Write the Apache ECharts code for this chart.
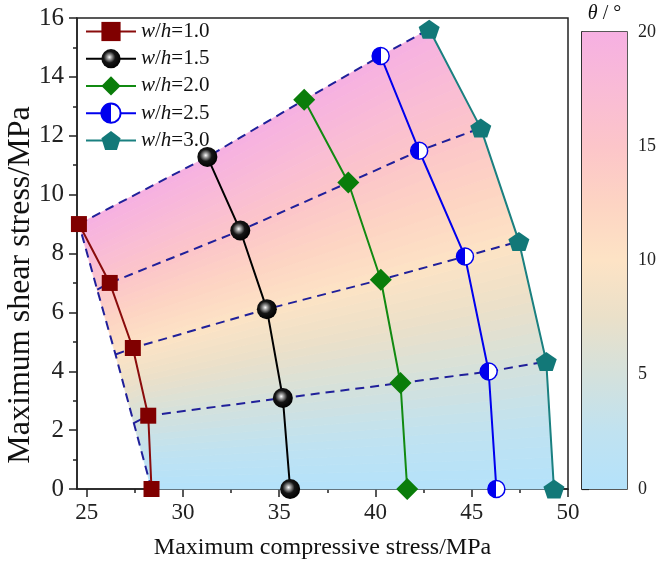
<!DOCTYPE html>
<html>
<head>
<meta charset="utf-8">
<script src="https://cdn.jsdelivr.net/npm/echarts@6/dist/echarts.min.js"></script>
<style>
html, body { margin: 0; background: #fff; }
#chart { width: 669px; height: 563px; }
</style>
</head>
<body>
<div id="chart"></div>
<script>
// theta levels of the dashed lines, bottom to top
var thetaLevels = [0, 5, 10, 15, 20];

// left dashed edge of the shaded map
var edgeX = [28.37, 27.45, 26.5, 25.55, 24.6];
var edgeY = [0, 2.24, 4.57, 6.77, 9.0];

// w/h series, points listed from theta=0 up to theta=20
var wh10X = [28.37, 28.2, 27.4, 26.2, 24.6];
var wh10Y = [0, 2.49, 4.79, 7.0, 9.0];
var wh15X = [35.57, 35.19, 34.36, 32.98, 31.27];
var wh15Y = [0, 3.09, 6.11, 8.78, 11.28];
var wh20X = [41.65, 41.3, 40.28, 38.59, 36.3];
var wh20Y = [0, 3.6, 7.11, 10.41, 13.22];
var wh25X = [46.28, 45.88, 44.65, 42.27, 40.27];
var wh25Y = [0, 3.99, 7.9, 11.49, 14.71];
var wh30X = [49.27, 48.87, 47.45, 45.47, 42.79];
var wh30Y = [0, 4.33, 8.41, 12.26, 15.62];

var ratioNames = ['w/h=1.0', 'w/h=1.5', 'w/h=2.0', 'w/h=2.5', 'w/h=3.0'];

var xTicks = [25, 30, 35, 40, 45, 50];
var xMinorTicks = [27.5, 32.5, 37.5, 42.5, 47.5];

// colour scale of theta
var cmapLevels = [0, 2.5, 5, 7.5, 10, 12.5, 15, 17.5, 20];
var cmapColors = ['#b4e2fb', '#c0e2f0', '#d4e1dc', '#eae0c9', '#fde3c5', '#fdd4c3', '#fcc5c9', '#f9bbd6', '#f6b0e2'];

var FONT = "'Liberation Serif', 'Times New Roman', serif";

function pairs(xs, ys) {
    return xs.map(function (x, i) { return [x, ys[i]]; });
}

function hexRgb(h) {
    return [parseInt(h.substr(1, 2), 16), parseInt(h.substr(3, 2), 16), parseInt(h.substr(5, 2), 16)];
}

function thetaColor(t) {
    for (var i = 0; i < cmapLevels.length - 1; i++) {
        if (t <= cmapLevels[i + 1]) {
            var f = (t - cmapLevels[i]) / (cmapLevels[i + 1] - cmapLevels[i]);
            var a = hexRgb(cmapColors[i]), b = hexRgb(cmapColors[i + 1]);
            return 'rgb(' + [0, 1, 2].map(function (k) { return Math.round(a[k] + (b[k] - a[k]) * f); }).join(',') + ')';
        }
    }
    return cmapColors[cmapColors.length - 1];
}

function lerp(p, q, t) {
    return [p[0] + (q[0] - p[0]) * t, p[1] + (q[1] - p[1]) * t];
}

var columnsX = [edgeX, wh10X, wh15X, wh20X, wh25X, wh30X];
var columnsY = [edgeY, wh10Y, wh15Y, wh20Y, wh25Y, wh30Y];

var cells = [];
for (var c = 0; c < columnsX.length - 1; c++) {
    for (var r = 0; r < thetaLevels.length - 1; r++) {
        cells.push([c, r]);
    }
}

// dashed iso-theta lines (edge point + one point per w/h series)
var dashStyle = { color: '#20209a', width: 2, type: [9, 6] };
var isoSeries = [];
for (var k = 1; k < thetaLevels.length; k++) {
    var pts = columnsX.map(function (xs, j) { return [xs[k], columnsY[j][k]]; });
    isoSeries.push({ type: 'line', data: pts, symbol: 'none', silent: true, z: 3, lineStyle: dashStyle });
}
isoSeries.push({ type: 'line', data: pairs(edgeX, edgeY), symbol: 'none', silent: true, z: 3, lineStyle: dashStyle });

var chart = echarts.init(document.getElementById('chart'));

var option = {
    animation: false,
    backgroundColor: '#fff',
    grid: [
        { left: 77, right: 101, top: 18, bottom: 74, show: true, borderColor: '#222', borderWidth: 1.5, outerBoundsMode: 'none' },
        { left: 582, width: 45, top: 32, bottom: 74, show: true, borderColor: '#222', borderWidth: 1.5, outerBoundsMode: 'none' }
    ],
    legend: {
        data: ratioNames,
        orient: 'vertical',
        left: 80, top: 16,
        itemWidth: 50, itemHeight: 24, itemGap: 6.2,
        formatter: function (name) {
            return '{i|w}/{i|h}=' + name.split('=')[1];
        },
        textStyle: {
            fontFamily: FONT, fontSize: 21, color: '#111', lineHeight: 20,
            rich: { i: { fontFamily: FONT, fontSize: 21, fontStyle: 'italic', color: '#111', lineHeight: 20 } }
        }
    },
    xAxis: [
        {
            gridIndex: 0, type: 'value', min: 24.5, max: 50, position: 'bottom',
            name: 'Maximum compressive stress/MPa', nameLocation: 'middle', nameGap: 47,
            nameTextStyle: { fontFamily: FONT, fontSize: 24, color: '#111' },
            axisLine: { show: true, lineStyle: { color: '#222', width: 1.5 } },
            axisTick: { show: true, length: 8, customValues: xTicks, lineStyle: { color: '#222', width: 1.5 } },
            axisLabel: { customValues: xTicks, fontFamily: FONT, fontSize: 23, color: '#222', margin: 12 },
            splitLine: { show: false }
        },
        {
            gridIndex: 0, type: 'value', min: 24.5, max: 50, position: 'bottom',
            axisLine: { show: false },
            axisTick: { show: true, length: 4, customValues: xMinorTicks, lineStyle: { color: '#222', width: 1.5 } },
            axisLabel: { show: false },
            splitLine: { show: false }
        },
        {
            gridIndex: 1, type: 'value', min: 0, max: 1, position: 'top',
            name: '{i|θ} / °', nameLocation: 'middle', nameGap: 8,
            nameTextStyle: {
                fontFamily: FONT, fontSize: 20, color: '#111',
                rich: { i: { fontFamily: FONT, fontSize: 20, fontStyle: 'italic', color: '#111' } }
            },
            axisLine: { show: false }, axisTick: { show: false },
            axisLabel: { show: false }, splitLine: { show: false }
        }
    ],
    yAxis: [
        {
            gridIndex: 0, type: 'value', min: 0, max: 16, interval: 2,
            axisLine: { show: true, lineStyle: { color: '#222', width: 1.5 } },
            axisTick: { show: true, length: 8, lineStyle: { color: '#222', width: 1.5 } },
            minorTick: { show: true, splitNumber: 2, length: 4, lineStyle: { color: '#222', width: 1.5 } },
            axisLabel: { fontFamily: FONT, fontSize: 25, color: '#222', margin: 13 },
            splitLine: { show: false }
        },
        {
            gridIndex: 1, type: 'value', min: 0, max: 20, interval: 5, position: 'right',
            axisLine: { show: true, lineStyle: { color: '#222', width: 1.5 } },
            axisTick: { show: true, length: 7, lineStyle: { color: '#222', width: 1.2 } },
            minorTick: { show: true, splitNumber: 5, length: 4, lineStyle: { color: '#222', width: 1 } },
            axisLabel: { fontFamily: FONT, fontSize: 18, color: '#222', margin: 11 },
            splitLine: { show: false }
        }
    ],
    graphic: [{
        type: 'text', x: 21, y: 285, rotation: Math.PI / 2,
        style: {
            text: 'Maximum shear stress/MPa', fontFamily: FONT, fontSize: 32, fill: '#111',
            align: 'center', verticalAlign: 'middle'
        }
    }],
    series: [
        {
            // shaded theta map
            type: 'custom', xAxisIndex: 0, yAxisIndex: 0, data: cells, silent: true, z: 1,
            renderItem: function (params, api) {
                var c = api.value(0), r = api.value(1);
                var bl = api.coord([columnsX[c][r], columnsY[c][r]]);
                var tl = api.coord([columnsX[c][r + 1], columnsY[c][r + 1]]);
                var br = api.coord([columnsX[c + 1][r], columnsY[c + 1][r]]);
                var tr = api.coord([columnsX[c + 1][r + 1], columnsY[c + 1][r + 1]]);
                var n = 12, children = [];
                for (var s = 0; s < n; s++) {
                    var t0 = s / n, t1 = (s + 1) / n;
                    var col = thetaColor(thetaLevels[r] + (thetaLevels[r + 1] - thetaLevels[r]) * (s + 0.5) / n);
                    children.push({
                        type: 'polygon',
                        shape: { points: [lerp(bl, tl, t0), lerp(br, tr, t0), lerp(br, tr, t1), lerp(bl, tl, t1)] },
                        style: { fill: col, stroke: col, lineWidth: 0.8 }
                    });
                }
                return { type: 'group', children: children };
            }
        },
        {
            // colour bar
            type: 'custom', xAxisIndex: 2, yAxisIndex: 1, data: [[0, 0]], silent: true,
            renderItem: function (params, api) {
                var p0 = api.coord([0, 0]);
                var p1 = api.coord([1, 20]);
                var stops = cmapLevels.map(function (v, i) { return { offset: v / 20, color: cmapColors[i] }; });
                return {
                    type: 'rect',
                    shape: { x: p0[0], y: p1[1], width: p1[0] - p0[0], height: p0[1] - p1[1] },
                    style: { fill: new echarts.graphic.LinearGradient(0, 1, 0, 0, stops) }
                };
            }
        }
    ].concat(isoSeries).concat([
        {
            name: ratioNames[0], type: 'line', data: pairs(wh10X, wh10Y), z: 5,
            symbol: 'rect', symbolSize: 16,
            lineStyle: { color: '#8a0c0c', width: 2 },
            itemStyle: { color: '#800000' }
        },
        {
            name: ratioNames[1], type: 'line', data: pairs(wh15X, wh15Y), z: 5,
            symbol: 'circle', symbolSize: 20,
            lineStyle: { color: '#000', width: 2 },
            itemStyle: {
                color: new echarts.graphic.RadialGradient(0.42, 0.42, 0.6, [
                    { offset: 0, color: '#ffffff' },
                    { offset: 0.2, color: '#9a9a9a' },
                    { offset: 0.5, color: '#151515' },
                    { offset: 1, color: '#000000' }
                ])
            }
        },
        {
            name: ratioNames[2], type: 'line', data: pairs(wh20X, wh20Y), z: 5,
            symbol: 'diamond', symbolSize: 22,
            lineStyle: { color: '#118a11', width: 2 },
            itemStyle: { color: '#0a7d0a' }
        },
        {
            name: ratioNames[3], type: 'line', data: pairs(wh25X, wh25Y), z: 5,
            symbol: 'circle', symbolSize: 17,
            lineStyle: { color: '#0000ee', width: 2 },
            itemStyle: {
                color: new echarts.graphic.LinearGradient(0, 0, 1, 0, [
                    { offset: 0, color: '#0000ee' },
                    { offset: 0.5, color: '#0000ee' },
                    { offset: 0.5, color: '#ffffff' },
                    { offset: 1, color: '#ffffff' }
                ]),
                borderColor: '#0000ee', borderWidth: 1.5
            }
        },
        {
            name: ratioNames[4], type: 'line', data: pairs(wh30X, wh30Y), z: 5,
            symbol: 'path://M0,-10 L9.51,-3.09 L5.88,8.09 L-5.88,8.09 L-9.51,-3.09 Z', symbolSize: [21, 19],
            lineStyle: { color: '#1a8080', width: 2 },
            itemStyle: { color: '#127878' }
        }
    ])
};

chart.setOption(option);
</script>
</body>
</html>
